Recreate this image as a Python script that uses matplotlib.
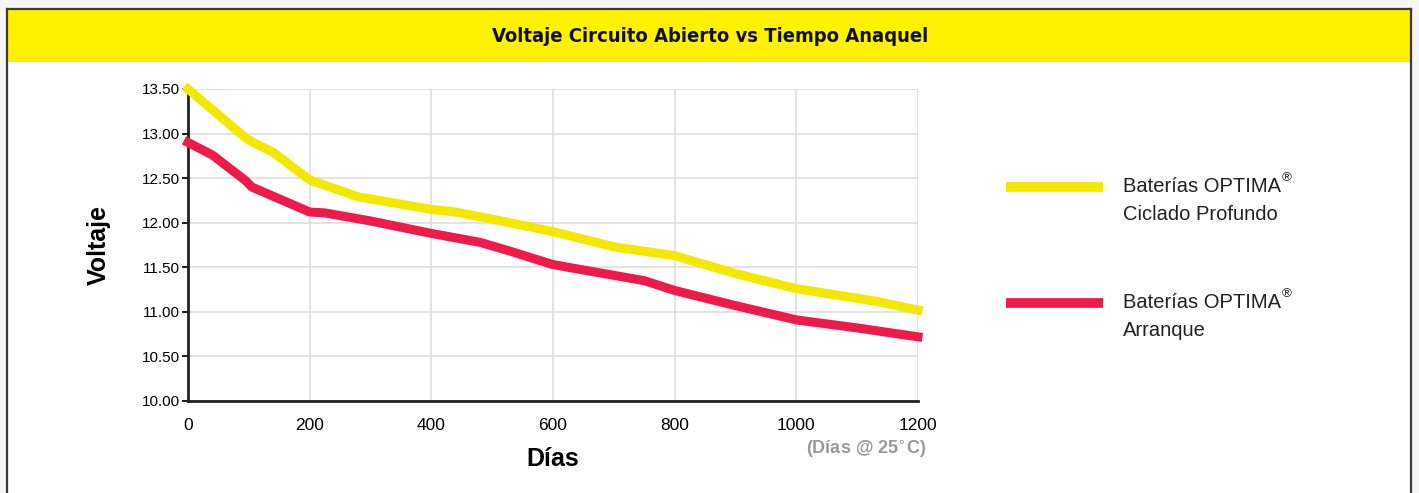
import matplotlib.pyplot as plt
from matplotlib.patches import Rectangle
from matplotlib.lines import Line2D

FILENAME = 'out.png'

TITLE = 'Voltaje Circuito Abierto vs Tiempo Anaquel'
YTICKS = [10.0, 10.5, 11.0, 11.5, 12.0, 12.5, 13.0, 13.5]
XTICKS = [0, 200, 400, 600, 800, 1000, 1200]

# Baterías OPTIMA Ciclado Profundo (amarillo)
days_deep = [0, 50, 95, 110, 140, 200, 280, 400, 440, 500, 600, 700, 800, 815, 900, 1000, 1130, 1200]
volt_deep = [13.50, 13.21, 12.95, 12.89, 12.79, 12.48, 12.29, 12.15, 12.12, 12.04, 11.90, 11.73,
             11.63, 11.60, 11.43, 11.26, 11.12, 11.02]

# Baterías OPTIMA Arranque (rojo)
days_start = [0, 40, 95, 105, 200, 225, 300, 400, 480, 530, 600, 700, 750, 800, 900, 1000, 1100, 1200]
volt_start = [12.90, 12.76, 12.47, 12.40, 12.12, 12.11, 12.02, 11.88, 11.78, 11.68, 11.53, 11.41,
              11.35, 11.24, 11.07, 10.91, 10.82, 10.72]

YELLOW = '#f2e800'
RED = '#ee1a4b'
HEADER = '#fff200'

plt.rcParams['font.family'] = ['Liberation Sans', 'DejaVu Sans']

fig = plt.figure(figsize=(14.19, 4.93), dpi=100)
fig.patch.set_facecolor('#f5f5f5')

W, H = 1419.0, 493.0
# white panel with dark border (left, top, right)
fig.patches.append(Rectangle((7 / W, 0), (1411 - 7) / W, 1 - 9 / H, transform=fig.transFigure,
                             facecolor='white', edgecolor='none', zorder=-2))
fig.patches.append(Rectangle((7 / W, 1 - 62 / H), (1411 - 7) / W, (62 - 9) / H, transform=fig.transFigure,
                             facecolor=HEADER, edgecolor='none', zorder=-1))
for xs, ys in [((7 / W, 7 / W), (0, 1 - 9 / H)),
               ((1411 / W, 1411 / W), (0, 1 - 9 / H)),
               ((7 / W, 1411 / W), (1 - 9 / H, 1 - 9 / H))]:
    fig.lines.append(Line2D(xs, ys, transform=fig.transFigure, color='#3a3a3a', lw=1.6, zorder=2))

fig.text(710 / W, 1 - 37 / H, TITLE, ha='center', va='center', fontsize=14.5, fontweight='bold',
         family='DejaVu Sans', fontstretch='condensed', color='#111111')

ax = fig.add_axes([188 / W, 1 - 401 / H, (918 - 188) / W, (401 - 89) / H], zorder=1)
ax.set_facecolor('white')
ax.plot(days_deep, volt_deep, color=YELLOW, lw=6.5, solid_joinstyle='round', zorder=3, clip_on=False)
ax.plot(days_start, volt_start, color=RED, lw=6.5, solid_joinstyle='round', zorder=3, clip_on=False)

ax.set_xlim(0, 1200)
ax.set_ylim(10, 13.5)
ax.set_xticks(XTICKS)
ax.set_yticks(YTICKS)
ax.set_yticklabels(['%.2f' % v for v in YTICKS])
ax.grid(True, color='#dedede', lw=1.2)
ax.set_axisbelow(True)
for s in ['top', 'right']:
    ax.spines[s].set_visible(False)
for s in ['left', 'bottom']:
    ax.spines[s].set_color('#222222')
    ax.spines[s].set_linewidth(2)
ax.tick_params(axis='y', length=4, width=1.5, color='#222222', labelsize=11, pad=2)
ax.tick_params(axis='x', length=0, labelsize=12.5, pad=12)

ax.set_ylabel('Voltaje', fontsize=18, fontweight='bold', labelpad=22)
ax.set_xlabel('Días', fontsize=18, fontweight='bold', labelpad=10)
fig.text(866 / W, 1 - 449 / H, '(Días @ 25$^{\\circ}$C)', ha='center', va='center', fontsize=13,
         fontweight='bold', color='#999999')

# legend
for y, col, l1, l2 in [(187, YELLOW, 'Baterías OPTIMA', 'Ciclado Profundo'),
                       (303, RED, 'Baterías OPTIMA', 'Arranque')]:
    fig.lines.append(Line2D((1006 / W, 1103 / W), (1 - y / H, 1 - y / H), transform=fig.transFigure,
                            color=col, lw=7, solid_capstyle='butt'))
    t = fig.text(1123 / W, 1 - (y - 1) / H, l1, ha='left', va='center', fontsize=14.5, color='#222222')
    fig.text(1123 / W, 1 - (y + 28) / H, l2, ha='left', va='center', fontsize=14.5, color='#222222')
    fig.canvas.draw()
    bb = t.get_window_extent()
    fig.text(bb.x1 / W + 1 / W, 1 - (y - 9) / H, '®', ha='left', va='center', fontsize=9.5,
             color='#222222')

plt.savefig(FILENAME, dpi=100, facecolor=fig.get_facecolor())
